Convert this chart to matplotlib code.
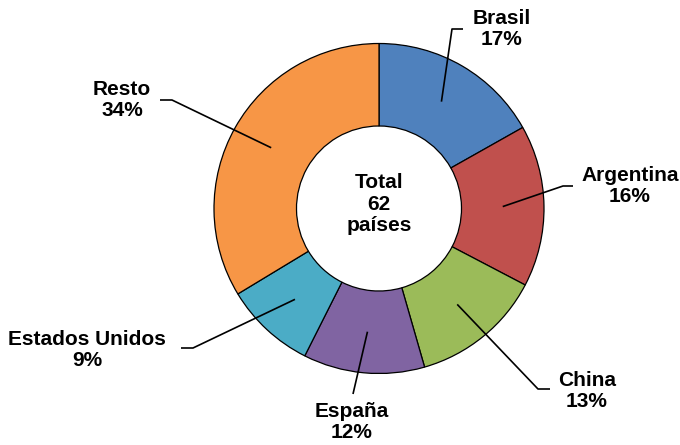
import numpy as np
import matplotlib.pyplot as plt
from matplotlib import rcParams

rcParams['font.family'] = ['Liberation Sans', 'DejaVu Sans']

# data
paises = ['Brasil', 'Argentina', 'China', 'España', 'Estados Unidos', 'Resto']
porcentajes = [17, 16, 13, 12, 9, 34]
colores = ['#4F81BD', '#C0504D', '#9BBB59', '#8064A2', '#4BACC6', '#F79646']
total_paises = 62

W, H = 680, 445
# label layout in pixel coords (y from top): text centre, elbow, end of horizontal stub
label_pos = [(502, 29), (630, 186), (587, 391), (352, 422), (87, 350), (122, 100)]
elbows = [(452, 29), (563, 186), (538, 389), (353, 394), (193, 348), (172, 100)]
stubs = [(463, 29), (573, 186), (550, 389), None, (181, 348), (160, 100)]

cx, cy = 379, 208.5
R_out, R_in = 165, 82.5

fig = plt.figure(figsize=(W/100, H/100), dpi=100)
ax = fig.add_axes([0, 0, 1, 1])

wedges, _ = ax.pie(porcentajes, colors=colores, startangle=90, counterclock=False,
                   radius=R_out, center=(cx, H - cy),
                   wedgeprops=dict(width=R_out - R_in, edgecolor='black', linewidth=0.9))
ax.set_xlim(0, W)
ax.set_ylim(0, H)
ax.set_aspect('equal')
ax.axis('off')

r_mid = (R_out + R_in) / 2
for w, nombre, p, lp, el, st in zip(wedges, paises, porcentajes, label_pos, elbows, stubs):
    ang = np.deg2rad((w.theta1 + w.theta2) / 2)
    ax_x = cx + r_mid * np.cos(ang)
    ax_y = (H - cy) + r_mid * np.sin(ang)
    xs = [ax_x, el[0]]
    ys = [ax_y, H - el[1]]
    if st is not None:
        xs.append(st[0])
        ys.append(H - st[1])
    ax.plot(xs, ys, color='black', linewidth=1.2, solid_capstyle='butt')
    ax.text(lp[0], H - lp[1], '{}\n{}%'.format(nombre, p), ha='center', va='center',
            fontsize=15, fontweight='bold', linespacing=1.1)

ax.text(cx, H - 204, 'Total\n{}\npaíses'.format(total_paises), ha='center', va='center',
        fontsize=15, fontweight='bold', linespacing=1.15)

plt.savefig('out.png', dpi=100)
